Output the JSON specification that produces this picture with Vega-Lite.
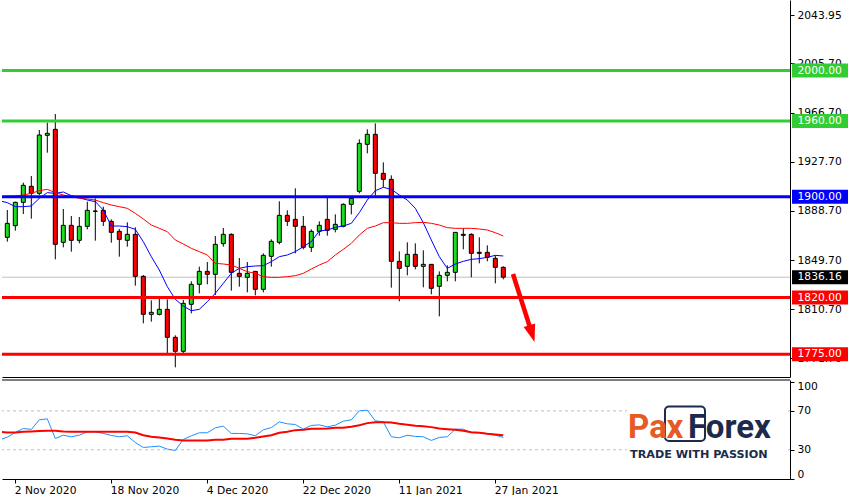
{
  "$schema": "https://vega.github.io/schema/vega-lite/v6.json",
  "padding": 0,
  "background": "white",
  "spacing": 2,
  "config": {
    "view": {"stroke": null},
    "axis": {"labelFont": "DejaVu Sans", "labelFontSize": 10.7, "labelColor": "#000000", "tickColor": "#000000", "domainColor": "#000000", "grid": false, "title": null, "tickSize": 4}
  },
  "datasets": {
    "bars": [
      {"i":0,"date":"2020-10-29","maFast":1896.8,"maSlow":1900.0,"rsi":40.0,"rsiMa":48.5},
      {"i":1,"date":"2020-10-30","open":1867.76,"high":1889.43,"low":1864.33,"close":1878.86,"maFast":1895.25,"maSlow":1900.27,"rsi":43.0,"rsiMa":47.8},
      {"i":2,"date":"2020-11-02","open":1877.01,"high":1896.04,"low":1873.05,"close":1895.51,"maFast":1892.08,"maSlow":1900.53,"rsi":47.8,"rsiMa":47.8},
      {"i":3,"date":"2020-11-03","open":1895.51,"high":1911.11,"low":1886.26,"close":1909.0,"maFast":1892.08,"maSlow":1901.33,"rsi":51.9,"rsiMa":48.5},
      {"i":4,"date":"2020-11-04","open":1908.2,"high":1916.39,"low":1882.56,"close":1902.65,"maFast":1892.61,"maSlow":1902.65,"rsi":50.9,"rsiMa":48.8},
      {"i":5,"date":"2020-11-05","open":1902.65,"high":1952.86,"low":1901.33,"close":1948.9,"maFast":1898.68,"maSlow":1904.76,"rsi":60.8,"rsiMa":49.2},
      {"i":6,"date":"2020-11-06","open":1948.64,"high":1958.68,"low":1934.89,"close":1950.22,"maFast":1903.18,"maSlow":1905.82,"rsi":61.8,"rsiMa":49.5},
      {"i":7,"date":"2020-11-09","open":1953.39,"high":1965.55,"low":1850.32,"close":1862.21,"maFast":1902.65,"maSlow":1903.18,"rsi":41.6,"rsiMa":49.5},
      {"i":8,"date":"2020-11-10","open":1863.8,"high":1890.23,"low":1859.84,"close":1877.28,"maFast":1903.71,"maSlow":1901.33,"rsi":45.0,"rsiMa":48.8},
      {"i":9,"date":"2020-11-11","open":1877.28,"high":1884.68,"low":1856.4,"close":1865.38,"maFast":1900.8,"maSlow":1900.01,"rsi":43.4,"rsiMa":48.5},
      {"i":10,"date":"2020-11-12","open":1865.38,"high":1883.88,"low":1863.01,"close":1876.49,"maFast":1899.21,"maSlow":1898.68,"rsi":45.0,"rsiMa":48.5},
      {"i":11,"date":"2020-11-13","open":1876.49,"high":1896.04,"low":1874.11,"close":1889.17,"maFast":1897.36,"maSlow":1898.16,"rsi":48.5,"rsiMa":48.5},
      {"i":12,"date":"2020-11-16","open":1888.64,"high":1898.68,"low":1865.12,"close":1888.38,"maFast":1896.04,"maSlow":1897.36,"rsi":48.5,"rsiMa":48.5},
      {"i":13,"date":"2020-11-17","open":1889.17,"high":1892.08,"low":1876.75,"close":1880.45,"maFast":1889.43,"maSlow":1895.25,"rsi":46.8,"rsiMa":48.5},
      {"i":14,"date":"2020-11-18","open":1880.45,"high":1882.03,"low":1863.53,"close":1871.72,"maFast":1876.75,"maSlow":1893.4,"rsi":44.7,"rsiMa":48.5},
      {"i":15,"date":"2020-11-19","open":1872.52,"high":1874.37,"low":1852.44,"close":1866.17,"maFast":1876.75,"maSlow":1892.08,"rsi":43.4,"rsiMa":48.5},
      {"i":16,"date":"2020-11-20","open":1865.38,"high":1879.66,"low":1860.36,"close":1870.14,"maFast":1876.22,"maSlow":1890.76,"rsi":44.4,"rsiMa":48.5},
      {"i":17,"date":"2020-11-23","open":1870.14,"high":1875.69,"low":1829.44,"close":1836.84,"maFast":1874.11,"maSlow":1886.79,"rsi":37.5,"rsiMa":47.8},
      {"i":18,"date":"2020-11-24","open":1836.84,"high":1837.9,"low":1799.58,"close":1806.71,"maFast":1864.33,"maSlow":1882.3,"rsi":32.4,"rsiMa":45.0},
      {"i":19,"date":"2020-11-25","open":1806.71,"high":1817.81,"low":1800.9,"close":1808.3,"maFast":1852.44,"maSlow":1877.54,"rsi":33.1,"rsiMa":43.4},
      {"i":20,"date":"2020-11-26","open":1806.71,"high":1818.87,"low":1805.92,"close":1810.68,"maFast":1841.86,"maSlow":1874.9,"rsi":33.8,"rsiMa":42.7},
      {"i":21,"date":"2020-11-27","open":1810.68,"high":1818.61,"low":1775.79,"close":1788.48,"maFast":1828.65,"maSlow":1872.25,"rsi":30.7,"rsiMa":41.6},
      {"i":22,"date":"2020-11-30","open":1788.48,"high":1790.06,"low":1764.69,"close":1777.38,"maFast":1818.61,"maSlow":1865.65,"rsi":29.3,"rsiMa":40.3},
      {"i":23,"date":"2020-12-01","open":1777.38,"high":1818.08,"low":1775.79,"close":1815.43,"maFast":1813.32,"maSlow":1862.48,"rsi":40.6,"rsiMa":39.6},
      {"i":24,"date":"2020-12-02","open":1814.64,"high":1832.88,"low":1807.5,"close":1830.5,"maFast":1809.62,"maSlow":1859.04,"rsi":44.4,"rsiMa":39.6},
      {"i":25,"date":"2020-12-03","open":1830.5,"high":1844.51,"low":1823.36,"close":1840.8,"maFast":1810.68,"maSlow":1856.4,"rsi":47.5,"rsiMa":39.6},
      {"i":26,"date":"2020-12-04","open":1840.8,"high":1848.2,"low":1830.5,"close":1838.43,"maFast":1816.75,"maSlow":1853.76,"rsi":47.5,"rsiMa":39.6},
      {"i":27,"date":"2020-12-07","open":1838.43,"high":1868.82,"low":1822.04,"close":1862.21,"maFast":1823.36,"maSlow":1847.15,"rsi":52.6,"rsiMa":40.3},
      {"i":28,"date":"2020-12-08","open":1862.74,"high":1875.16,"low":1860.36,"close":1870.14,"maFast":1831.29,"maSlow":1846.62,"rsi":54.3,"rsiMa":40.3},
      {"i":29,"date":"2020-12-09","open":1870.14,"high":1870.93,"low":1825.47,"close":1840.01,"maFast":1839.22,"maSlow":1845.83,"rsi":46.8,"rsiMa":41.3},
      {"i":30,"date":"2020-12-10","open":1839.22,"high":1851.38,"low":1828.65,"close":1836.84,"maFast":1843.19,"maSlow":1843.19,"rsi":46.8,"rsiMa":41.3},
      {"i":31,"date":"2020-12-11","open":1836.05,"high":1848.2,"low":1824.15,"close":1839.22,"maFast":1844.51,"maSlow":1840.54,"rsi":46.4,"rsiMa":41.3},
      {"i":32,"date":"2020-12-14","open":1840.8,"high":1840.8,"low":1821.78,"close":1826.53,"maFast":1845.03,"maSlow":1839.22,"rsi":44.4,"rsiMa":42.3},
      {"i":33,"date":"2020-12-15","open":1826.53,"high":1855.08,"low":1824.15,"close":1853.49,"maFast":1845.3,"maSlow":1836.58,"rsi":50.5,"rsiMa":43.7},
      {"i":34,"date":"2020-12-16","open":1852.7,"high":1866.17,"low":1844.51,"close":1864.59,"maFast":1848.47,"maSlow":1836.05,"rsi":52.8,"rsiMa":45.0},
      {"i":35,"date":"2020-12-17","open":1863.8,"high":1896.31,"low":1862.21,"close":1885.21,"maFast":1852.44,"maSlow":1836.05,"rsi":58.7,"rsiMa":47.5},
      {"i":36,"date":"2020-12-18","open":1885.21,"high":1889.17,"low":1876.75,"close":1880.45,"maFast":1853.76,"maSlow":1836.58,"rsi":56.7,"rsiMa":48.5},
      {"i":37,"date":"2020-12-21","open":1882.03,"high":1906.61,"low":1855.08,"close":1876.49,"maFast":1856.4,"maSlow":1837.37,"rsi":56.0,"rsiMa":50.2},
      {"i":38,"date":"2020-12-22","open":1876.49,"high":1884.68,"low":1858.25,"close":1859.84,"maFast":1860.36,"maSlow":1839.22,"rsi":51.2,"rsiMa":50.5},
      {"i":39,"date":"2020-12-23","open":1859.84,"high":1874.11,"low":1856.14,"close":1872.52,"maFast":1864.33,"maSlow":1842.66,"rsi":55.0,"rsiMa":51.5},
      {"i":40,"date":"2020-12-24","open":1872.52,"high":1880.45,"low":1869.08,"close":1877.28,"maFast":1872.78,"maSlow":1845.83,"rsi":55.6,"rsiMa":51.5},
      {"i":41,"date":"2020-12-28","open":1882.03,"high":1899.48,"low":1869.08,"close":1873.31,"maFast":1873.58,"maSlow":1848.47,"rsi":53.6,"rsiMa":51.9},
      {"i":42,"date":"2020-12-29","open":1874.11,"high":1886.0,"low":1871.72,"close":1878.07,"maFast":1875.69,"maSlow":1853.76,"rsi":55.3,"rsiMa":52.6},
      {"i":43,"date":"2020-12-30","open":1876.49,"high":1894.72,"low":1875.69,"close":1893.93,"maFast":1876.75,"maSlow":1858.25,"rsi":59.4,"rsiMa":52.6},
      {"i":44,"date":"2020-12-31","open":1893.93,"high":1899.48,"low":1886.0,"close":1898.68,"maFast":1878.86,"maSlow":1863.01,"rsi":60.8,"rsiMa":53.6},
      {"i":45,"date":"2021-01-04","open":1904.23,"high":1945.46,"low":1902.65,"close":1942.29,"maFast":1887.32,"maSlow":1869.61,"rsi":70.0,"rsiMa":55.3},
      {"i":46,"date":"2021-01-05","open":1941.5,"high":1953.39,"low":1934.36,"close":1949.43,"maFast":1897.36,"maSlow":1874.9,"rsi":70.7,"rsiMa":57.4},
      {"i":47,"date":"2021-01-06","open":1949.43,"high":1958.15,"low":1900.8,"close":1918.51,"maFast":1904.76,"maSlow":1876.75,"rsi":59.8,"rsiMa":58.4},
      {"i":48,"date":"2021-01-07","open":1918.51,"high":1927.23,"low":1907.41,"close":1913.75,"maFast":1907.41,"maSlow":1879.39,"rsi":58.7,"rsiMa":58.4},
      {"i":49,"date":"2021-01-08","open":1913.75,"high":1916.92,"low":1827.86,"close":1848.73,"maFast":1905.82,"maSlow":1879.39,"rsi":43.4,"rsiMa":58.05},
      {"i":50,"date":"2021-01-11","open":1848.73,"high":1856.67,"low":1817.02,"close":1843.19,"maFast":1901.33,"maSlow":1878.86,"rsi":42.3,"rsiMa":56.7},
      {"i":51,"date":"2021-01-12","open":1844.77,"high":1863.8,"low":1837.63,"close":1854.29,"maFast":1897.36,"maSlow":1878.86,"rsi":45.0,"rsiMa":55.7},
      {"i":52,"date":"2021-01-13","open":1854.29,"high":1863.01,"low":1842.39,"close":1844.77,"maFast":1890.76,"maSlow":1879.39,"rsi":43.7,"rsiMa":54.6},
      {"i":53,"date":"2021-01-14","open":1844.77,"high":1857.46,"low":1828.12,"close":1846.35,"maFast":1879.39,"maSlow":1879.66,"rsi":43.4,"rsiMa":54.3},
      {"i":54,"date":"2021-01-15","open":1846.35,"high":1846.35,"low":1822.57,"close":1827.33,"maFast":1865.65,"maSlow":1878.86,"rsi":39.6,"rsiMa":53.3},
      {"i":55,"date":"2021-01-18","open":1828.91,"high":1840.8,"low":1805.13,"close":1837.63,"maFast":1852.44,"maSlow":1877.54,"rsi":42.7,"rsiMa":51.9},
      {"i":56,"date":"2021-01-19","open":1837.63,"high":1845.56,"low":1832.88,"close":1840.01,"maFast":1843.19,"maSlow":1875.43,"rsi":43.4,"rsiMa":51.2},
      {"i":57,"date":"2021-01-20","open":1840.01,"high":1871.72,"low":1832.88,"close":1871.72,"maFast":1846.62,"maSlow":1874.9,"rsi":51.2,"rsiMa":50.5},
      {"i":58,"date":"2021-01-21","open":1870.14,"high":1874.9,"low":1858.25,"close":1869.34,"maFast":1848.73,"maSlow":1874.9,"rsi":51.2,"rsiMa":49.5},
      {"i":59,"date":"2021-01-22","open":1870.14,"high":1870.93,"low":1836.05,"close":1855.08,"maFast":1850.32,"maSlow":1874.9,"rsi":47.5,"rsiMa":48.1},
      {"i":60,"date":"2021-01-25","open":1855.87,"high":1867.76,"low":1847.15,"close":1855.08,"maFast":1850.85,"maSlow":1874.37,"rsi":47.8,"rsiMa":47.5},
      {"i":61,"date":"2021-01-26","open":1855.87,"high":1861.42,"low":1848.73,"close":1851.91,"maFast":1851.91,"maSlow":1873.58,"rsi":46.4,"rsiMa":46.4},
      {"i":62,"date":"2021-01-27","open":1851.11,"high":1853.49,"low":1831.29,"close":1843.98,"maFast":1853.49,"maSlow":1871.46,"rsi":45.0,"rsiMa":45.7},
      {"i":63,"date":"2021-01-28","open":1843.98,"high":1844.77,"low":1834.46,"close":1836.16,"maFast":1852.97,"maSlow":1868.82,"rsi":42.7,"rsiMa":45.0}
    ],
    "levels": [
      {"level":2000,"zone":"upper"},
      {"level":1960,"zone":"upper"},
      {"level":1900,"zone":"pivot"},
      {"level":1836.16,"zone":"last"},
      {"level":1820,"zone":"lower"},
      {"level":1775,"zone":"lower"}
    ],
    "arrow": [
      {"part":"start","i":64.21,"price":1838.7},
      {"part":"neck","i":66.27,"price":1797.7},
      {"part":"tip","i":66.9,"price":1784.8}
    ],
    "rsiLevels": [{"rsiLevel":30},{"rsiLevel":70}]
  },
  "vconcat": [
    {
      "width": 788,
      "height": 377,
      "data": {"name": "bars"},
      "layer": [
        {
          "data": {"name": "levels"},
          "transform": [{"filter": "datum.zone == 'last'"}],
          "mark": {"type": "rule", "color": "#C0C0C0", "strokeWidth": 1},
          "encoding": {
            "y": {"field": "level", "type": "quantitative", "scale": {"domain": [1757.03, 2055.94], "nice": false, "zero": false, "padding": 0}, "axis": {"orient": "right", "values": [2043.95, 2005.7, 1966.7, 1927.7, 1888.7, 1849.7, 1810.7, 1771.7], "format": ".2f", "labelPadding": 3}}
          }
        },
        {
          "transform": [{"filter": {"field": "open", "valid": true}}],
          "mark": {"type": "rule", "color": "#000000", "strokeWidth": 1},
          "encoding": {
            "x": {"field": "i", "type": "quantitative", "scale": {"domain": [0.3375, 98.8375], "nice": false, "zero": false, "padding": 0}, "axis": {"orient": "bottom", "labels": false, "ticks": false, "domain": true}},
            "y": {"field": "low", "type": "quantitative", "scale": {"domain": [1757.03, 2055.94], "nice": false, "zero": false, "padding": 0}, "axis": {"orient": "right", "values": [2043.95, 2005.7, 1966.7, 1927.7, 1888.7, 1849.7, 1810.7, 1771.7], "format": ".2f", "labelPadding": 3}},
            "y2": {"field": "high"}
          }
        },
        {
          "transform": [{"filter": {"field": "open", "valid": true}}],
          "mark": {"type": "bar", "size": 4, "stroke": "#000000", "strokeWidth": 1},
          "encoding": {
            "x": {"field": "i", "type": "quantitative", "scale": {"domain": [0.3375, 98.8375], "nice": false, "zero": false, "padding": 0}, "axis": {"orient": "bottom", "labels": false, "ticks": false, "domain": true}},
            "y": {"field": "open", "type": "quantitative", "scale": {"domain": [1757.03, 2055.94], "nice": false, "zero": false, "padding": 0}, "axis": {"orient": "right", "values": [2043.95, 2005.7, 1966.7, 1927.7, 1888.7, 1849.7, 1810.7, 1771.7], "format": ".2f", "labelPadding": 3}},
            "y2": {"field": "close"},
            "fill": {"condition": {"test": "datum.close >= datum.open", "value": "#1EDC1E"}, "value": "#FF0000"}
          }
        },
        {
          "mark": {"type": "line", "color": "#0000FF", "strokeWidth": 1, "clip": true},
          "encoding": {
            "x": {"field": "i", "type": "quantitative", "scale": {"domain": [0.3375, 98.8375], "nice": false, "zero": false, "padding": 0}, "axis": {"orient": "bottom", "labels": false, "ticks": false, "domain": true}},
            "y": {"field": "maFast", "type": "quantitative", "scale": {"domain": [1757.03, 2055.94], "nice": false, "zero": false, "padding": 0}, "axis": {"orient": "right", "values": [2043.95, 2005.7, 1966.7, 1927.7, 1888.7, 1849.7, 1810.7, 1771.7], "format": ".2f", "labelPadding": 3}}
          }
        },
        {
          "mark": {"type": "line", "color": "#FF0000", "strokeWidth": 1, "clip": true},
          "encoding": {
            "x": {"field": "i", "type": "quantitative", "scale": {"domain": [0.3375, 98.8375], "nice": false, "zero": false, "padding": 0}, "axis": {"orient": "bottom", "labels": false, "ticks": false, "domain": true}},
            "y": {"field": "maSlow", "type": "quantitative", "scale": {"domain": [1757.03, 2055.94], "nice": false, "zero": false, "padding": 0}, "axis": {"orient": "right", "values": [2043.95, 2005.7, 1966.7, 1927.7, 1888.7, 1849.7, 1810.7, 1771.7], "format": ".2f", "labelPadding": 3}}
          }
        },
        {
          "data": {"name": "levels"},
          "transform": [{"filter": "datum.zone != 'last'"}],
          "mark": {"type": "rule", "strokeWidth": 3},
          "encoding": {
            "y": {"field": "level", "type": "quantitative", "scale": {"domain": [1757.03, 2055.94], "nice": false, "zero": false, "padding": 0}, "axis": {"orient": "right", "values": [2043.95, 2005.7, 1966.7, 1927.7, 1888.7, 1849.7, 1810.7, 1771.7], "format": ".2f", "labelPadding": 3}},
            "color": {"field": "zone", "type": "nominal", "scale": {"domain": ["upper", "pivot", "last", "lower"], "range": ["#32CD32", "#0000FF", "#000000", "#FF0000"]}, "legend": null}
          }
        },
        {
          "data": {"name": "arrow"},
          "transform": [{"filter": "datum.part != 'tip'"}],
          "mark": {"type": "line", "color": "#FF0000", "strokeWidth": 4.5, "strokeCap": "butt"},
          "encoding": {
            "x": {"field": "i", "type": "quantitative", "scale": {"domain": [0.3375, 98.8375], "nice": false, "zero": false, "padding": 0}, "axis": {"orient": "bottom", "labels": false, "ticks": false, "domain": true}},
            "y": {"field": "price", "type": "quantitative", "scale": {"domain": [1757.03, 2055.94], "nice": false, "zero": false, "padding": 0}, "axis": {"orient": "right", "values": [2043.95, 2005.7, 1966.7, 1927.7, 1888.7, 1849.7, 1810.7, 1771.7], "format": ".2f", "labelPadding": 3}}
          }
        },
        {
          "data": {"name": "arrow"},
          "transform": [{"filter": "datum.part == 'tip'"}],
          "mark": {"type": "point", "shape": "M0,0L-0.6,-1.75L0.6,-1.75Z", "filled": true, "size": 400, "angle": 343, "color": "#FF0000", "opacity": 1, "strokeWidth": 0},
          "encoding": {
            "x": {"field": "i", "type": "quantitative", "scale": {"domain": [0.3375, 98.8375], "nice": false, "zero": false, "padding": 0}, "axis": {"orient": "bottom", "labels": false, "ticks": false, "domain": true}},
            "y": {"field": "price", "type": "quantitative", "scale": {"domain": [1757.03, 2055.94], "nice": false, "zero": false, "padding": 0}, "axis": {"orient": "right", "values": [2043.95, 2005.7, 1966.7, 1927.7, 1888.7, 1849.7, 1810.7, 1771.7], "format": ".2f", "labelPadding": 3}}
          }
        },
        {
          "data": {"name": "levels"},
          "mark": {"type": "bar", "size": 14, "orient": "horizontal"},
          "encoding": {
            "x": {"datum": 99.09, "type": "quantitative", "scale": {"domain": [0.3375, 98.8375], "nice": false, "zero": false, "padding": 0}, "axis": {"orient": "bottom", "labels": false, "ticks": false, "domain": true}},
            "x2": {"datum": 106.09},
            "y": {"field": "level", "type": "quantitative", "scale": {"domain": [1757.03, 2055.94], "nice": false, "zero": false, "padding": 0}, "axis": {"orient": "right", "values": [2043.95, 2005.7, 1966.7, 1927.7, 1888.7, 1849.7, 1810.7, 1771.7], "format": ".2f", "labelPadding": 3}},
            "color": {"field": "zone", "type": "nominal", "legend": null}
          }
        },
        {
          "data": {"name": "levels"},
          "mark": {"type": "text", "align": "left", "baseline": "middle", "font": "DejaVu Sans", "fontSize": 10.7, "color": "#FFFFFF"},
          "encoding": {
            "x": {"datum": 99.78, "type": "quantitative", "scale": {"domain": [0.3375, 98.8375], "nice": false, "zero": false, "padding": 0}, "axis": {"orient": "bottom", "labels": false, "ticks": false, "domain": true}},
            "y": {"field": "level", "type": "quantitative", "scale": {"domain": [1757.03, 2055.94], "nice": false, "zero": false, "padding": 0}, "axis": {"orient": "right", "values": [2043.95, 2005.7, 1966.7, 1927.7, 1888.7, 1849.7, 1810.7, 1771.7], "format": ".2f", "labelPadding": 3}},
            "text": {"field": "level", "type": "quantitative", "format": ".2f"}
          }
        }
      ]
    },
    {
      "width": 788,
      "height": 99,
      "data": {"name": "bars"},
      "layer": [
        {
          "data": {"name": "rsiLevels"},
          "mark": {"type": "rule", "color": "#C0C0C0", "strokeWidth": 1, "strokeDash": [3, 3]},
          "encoding": {
            "y": {"field": "rsiLevel", "type": "quantitative", "scale": {"domain": [0, 101.7], "nice": false, "zero": false, "padding": 0}, "axis": {"orient": "right", "values": [0, 30, 70, 100], "labelFlush": 5, "labelPadding": 3}}
          }
        },
        {
          "data": {"values": [{"edge": "top"}]},
          "mark": {"type": "rule", "color": "#000000", "strokeWidth": 1},
          "encoding": {
            "y": {"datum": 101.7, "type": "quantitative", "scale": {"domain": [0, 101.7], "nice": false, "zero": false, "padding": 0}, "axis": {"orient": "right", "values": [0, 30, 70, 100], "labelFlush": 5, "labelPadding": 3}}
          }
        },
        {
          "data": {"values": [{"brand": "PaxForex"}]},
          "mark": {"type": "rect", "fill": "#FFFFFF"},
          "encoding": {
            "x": {"datum": 78.46, "type": "quantitative", "scale": {"domain": [0.3375, 98.8375], "nice": false, "zero": false, "padding": 0}, "axis": {"orient": "bottom", "values": [2, 14, 26, 38, 50, 62], "labelExpr": "['2 Nov 2020','18 Nov 2020','4 Dec 2020','22 Dec 2020','11 Jan 2021','27 Jan 2021'][round((datum.value - 2) / 12)]", "labelAlign": "left", "labelBaseline": "top", "labelOffset": -1, "labelPadding": 2, "labelOverlap": false}},
            "x2": {"datum": 98.6},
            "y": {"datum": 80.1, "type": "quantitative", "scale": {"domain": [0, 101.7], "nice": false, "zero": false, "padding": 0}, "axis": {"orient": "right", "values": [0, 30, 70, 100], "labelFlush": 5, "labelPadding": 3}},
            "y2": {"datum": 16.4}
          }
        },
        {
          "data": {"values": [{"brand": "PaxForex"}]},
          "mark": {"type": "rect", "fillOpacity": 0, "stroke": "#1C2B4B", "strokeWidth": 2, "cornerRadius": 4},
          "encoding": {
            "x": {"datum": 83.21, "type": "quantitative", "scale": {"domain": [0.3375, 98.8375], "nice": false, "zero": false, "padding": 0}, "axis": {"orient": "bottom", "values": [2, 14, 26, 38, 50, 62], "labelExpr": "['2 Nov 2020','18 Nov 2020','4 Dec 2020','22 Dec 2020','11 Jan 2021','27 Jan 2021'][round((datum.value - 2) / 12)]", "labelAlign": "left", "labelBaseline": "top", "labelOffset": -1, "labelPadding": 2, "labelOverlap": false}},
            "x2": {"datum": 88.21},
            "y": {"datum": 74.5, "type": "quantitative", "scale": {"domain": [0, 101.7], "nice": false, "zero": false, "padding": 0}, "axis": {"orient": "right", "values": [0, 30, 70, 100], "labelFlush": 5, "labelPadding": 3}},
            "y2": {"datum": 39.0}
          }
        },
        {
          "data": {"values": [{"brand": "Pa"}]},
          "mark": {"type": "text", "align": "left", "baseline": "alphabetic", "font": "Roboto", "fontWeight": "bold", "fontSize": 33, "color": "#E65A24"},
          "encoding": {
            "x": {"datum": 78.6, "type": "quantitative", "scale": {"domain": [0.3375, 98.8375], "nice": false, "zero": false, "padding": 0}, "axis": {"orient": "bottom", "values": [2, 14, 26, 38, 50, 62], "labelExpr": "['2 Nov 2020','18 Nov 2020','4 Dec 2020','22 Dec 2020','11 Jan 2021','27 Jan 2021'][round((datum.value - 2) / 12)]", "labelAlign": "left", "labelBaseline": "top", "labelOffset": -1, "labelPadding": 2, "labelOverlap": false}},
            "y": {"datum": 42.1, "type": "quantitative", "scale": {"domain": [0, 101.7], "nice": false, "zero": false, "padding": 0}, "axis": {"orient": "right", "values": [0, 30, 70, 100], "labelFlush": 5, "labelPadding": 3}},
            "text": {"field": "brand"}
          }
        },
        {
          "data": {"values": [{"brand": "x"}]},
          "mark": {"type": "text", "align": "left", "baseline": "alphabetic", "font": "Roboto", "fontWeight": "bold", "fontSize": 33, "color": "#E65A24"},
          "encoding": {
            "x": {"datum": 83.4, "type": "quantitative", "scale": {"domain": [0.3375, 98.8375], "nice": false, "zero": false, "padding": 0}, "axis": {"orient": "bottom", "values": [2, 14, 26, 38, 50, 62], "labelExpr": "['2 Nov 2020','18 Nov 2020','4 Dec 2020','22 Dec 2020','11 Jan 2021','27 Jan 2021'][round((datum.value - 2) / 12)]", "labelAlign": "left", "labelBaseline": "top", "labelOffset": -1, "labelPadding": 2, "labelOverlap": false}},
            "y": {"datum": 42.1, "type": "quantitative", "scale": {"domain": [0, 101.7], "nice": false, "zero": false, "padding": 0}, "axis": {"orient": "right", "values": [0, 30, 70, 100], "labelFlush": 5, "labelPadding": 3}},
            "text": {"field": "brand"}
          }
        },
        {
          "data": {"values": [{"brand": "Forex"}]},
          "mark": {"type": "text", "align": "left", "baseline": "alphabetic", "font": "Roboto", "fontWeight": "bold", "fontSize": 33, "color": "#1C2B4B"},
          "encoding": {
            "x": {"datum": 86.1, "type": "quantitative", "scale": {"domain": [0.3375, 98.8375], "nice": false, "zero": false, "padding": 0}, "axis": {"orient": "bottom", "values": [2, 14, 26, 38, 50, 62], "labelExpr": "['2 Nov 2020','18 Nov 2020','4 Dec 2020','22 Dec 2020','11 Jan 2021','27 Jan 2021'][round((datum.value - 2) / 12)]", "labelAlign": "left", "labelBaseline": "top", "labelOffset": -1, "labelPadding": 2, "labelOverlap": false}},
            "y": {"datum": 42.1, "type": "quantitative", "scale": {"domain": [0, 101.7], "nice": false, "zero": false, "padding": 0}, "axis": {"orient": "right", "values": [0, 30, 70, 100], "labelFlush": 5, "labelPadding": 3}},
            "text": {"field": "brand"}
          }
        },
        {
          "data": {"values": [{"brand": "TRADE WITH PASSION"}]},
          "mark": {"type": "text", "align": "left", "baseline": "alphabetic", "font": "DejaVu Sans", "fontWeight": "bold", "fontSize": 11.2, "color": "#1C2B4B"},
          "encoding": {
            "x": {"datum": 78.84, "type": "quantitative", "scale": {"domain": [0.3375, 98.8375], "nice": false, "zero": false, "padding": 0}, "axis": {"orient": "bottom", "values": [2, 14, 26, 38, 50, 62], "labelExpr": "['2 Nov 2020','18 Nov 2020','4 Dec 2020','22 Dec 2020','11 Jan 2021','27 Jan 2021'][round((datum.value - 2) / 12)]", "labelAlign": "left", "labelBaseline": "top", "labelOffset": -1, "labelPadding": 2, "labelOverlap": false}},
            "y": {"datum": 21.6, "type": "quantitative", "scale": {"domain": [0, 101.7], "nice": false, "zero": false, "padding": 0}, "axis": {"orient": "right", "values": [0, 30, 70, 100], "labelFlush": 5, "labelPadding": 3}},
            "text": {"field": "brand"}
          }
        },
        {
          "mark": {"type": "line", "color": "#1E90FF", "strokeWidth": 1, "clip": true},
          "encoding": {
            "x": {"field": "i", "type": "quantitative", "scale": {"domain": [0.3375, 98.8375], "nice": false, "zero": false, "padding": 0}, "axis": {"orient": "bottom", "values": [2, 14, 26, 38, 50, 62], "labelExpr": "['2 Nov 2020','18 Nov 2020','4 Dec 2020','22 Dec 2020','11 Jan 2021','27 Jan 2021'][round((datum.value - 2) / 12)]", "labelAlign": "left", "labelBaseline": "top", "labelOffset": -1, "labelPadding": 2, "labelOverlap": false}},
            "y": {"field": "rsi", "type": "quantitative", "scale": {"domain": [0, 101.7], "nice": false, "zero": false, "padding": 0}, "axis": {"orient": "right", "values": [0, 30, 70, 100], "labelFlush": 5, "labelPadding": 3}}
          }
        },
        {
          "mark": {"type": "line", "color": "#FF0000", "strokeWidth": 2, "clip": true},
          "encoding": {
            "x": {"field": "i", "type": "quantitative", "scale": {"domain": [0.3375, 98.8375], "nice": false, "zero": false, "padding": 0}, "axis": {"orient": "bottom", "values": [2, 14, 26, 38, 50, 62], "labelExpr": "['2 Nov 2020','18 Nov 2020','4 Dec 2020','22 Dec 2020','11 Jan 2021','27 Jan 2021'][round((datum.value - 2) / 12)]", "labelAlign": "left", "labelBaseline": "top", "labelOffset": -1, "labelPadding": 2, "labelOverlap": false}},
            "y": {"field": "rsiMa", "type": "quantitative", "scale": {"domain": [0, 101.7], "nice": false, "zero": false, "padding": 0}, "axis": {"orient": "right", "values": [0, 30, 70, 100], "labelFlush": 5, "labelPadding": 3}}
          }
        }
      ]
    }
  ]
}
